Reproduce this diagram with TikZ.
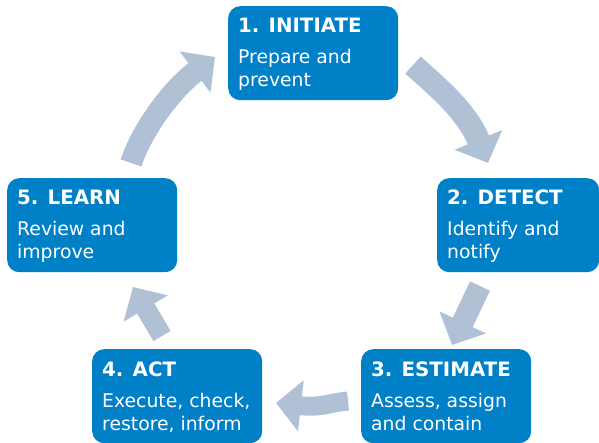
\documentclass[tikz,border=0pt]{standalone}
\usepackage{fontspec}
\setmainfont{DejaVu Sans}
\usetikzlibrary{arrows.meta,calc}
\definecolor{boxblue}{RGB}{0,128,198}
\definecolor{arrowgray}{RGB}{176,193,214}
\begin{document}
\begin{tikzpicture}[x=1pt,y=-1pt,
  box/.style={draw=none,fill=boxblue,rounded corners=12pt,minimum width=170pt,minimum height=94pt,anchor=north west,inner sep=0pt},
  ttl/.style={anchor=base west,inner sep=0pt,text=white,font=\bfseries\fontsize{19.8}{24}\selectfont},
  txt/.style={anchor=base west,inner sep=0pt,text=white,font=\fontsize{18.8}{24}\selectfont},
  bigarrow/.style={draw=arrowgray,line width=22pt,-{Triangle[length=25pt,width=50pt]}}]
\useasboundingbox (0,0) rectangle (599,443);
% boxes
\node[box] (b1) at (228,6) {};
\node[box,minimum width=162pt] (b2) at (437,178) {};
\node[box] (b3) at (361,349) {};
\node[box] (b4) at (92,349) {};
\node[box] (b5) at (7,178) {};
% texts
\node[ttl] (t1) at ($(b1.north west)+(10,27)$) {1. INITIATE};
\node[txt] (t1a) at ($(b1.north west)+(10,58)$) {Prepare and};
\node[txt] (t1b) at ($(b1.north west)+(10,81)$) {prevent};
\node[ttl] (t2) at ($(b2.north west)+(10,27)$) {2. DETECT};
\node[txt] (t2a) at ($(b2.north west)+(10,58)$) {Identify and};
\node[txt] (t2b) at ($(b2.north west)+(10,81)$) {notify};
\node[ttl] (t3) at ($(b3.north west)+(10,27)$) {3. ESTIMATE};
\node[txt] (t3a) at ($(b3.north west)+(10,58)$) {Assess, assign};
\node[txt] (t3b) at ($(b3.north west)+(10,81)$) {and contain};
\node[ttl] (t4) at ($(b4.north west)+(10,27)$) {4. ACT};
\node[txt] (t4a) at ($(b4.north west)+(10,58)$) {Execute, check,};
\node[txt] (t4b) at ($(b4.north west)+(10,81)$) {restore, inform};
\node[ttl] (t5) at ($(b5.north west)+(10,27)$) {5. LEARN};
\node[txt] (t5a) at ($(b5.north west)+(10,58)$) {Review and};
\node[txt] (t5b) at ($(b5.north west)+(10,81)$) {improve};
% arrow end points
\coordinate (a1s) at (413,65);  \coordinate (a1e) at (488,163);
\coordinate (a2s) at (480,286); \coordinate (a2e) at (452,345);
\coordinate (a3s) at (348,401); \coordinate (a3e) at (276,403);
\coordinate (a4s) at (162,336); \coordinate (a4e) at (133,287);
\coordinate (a5s) at (131,163); \coordinate (a5e) at (215,57);
\draw[bigarrow,line width=23pt] (a1s) .. controls (436,86) and (466,110) .. (a1e);
\draw[bigarrow] (a2s) -- (a2e);
\draw[bigarrow,line width=19pt] (a3s) .. controls (328,403) and (321,408) .. (a3e);
\draw[bigarrow,line width=20pt] (a4s) -- (a4e);
\draw[bigarrow] (a5s) .. controls (142,130) and (171,90) .. (a5e);
\end{tikzpicture}
\end{document}
